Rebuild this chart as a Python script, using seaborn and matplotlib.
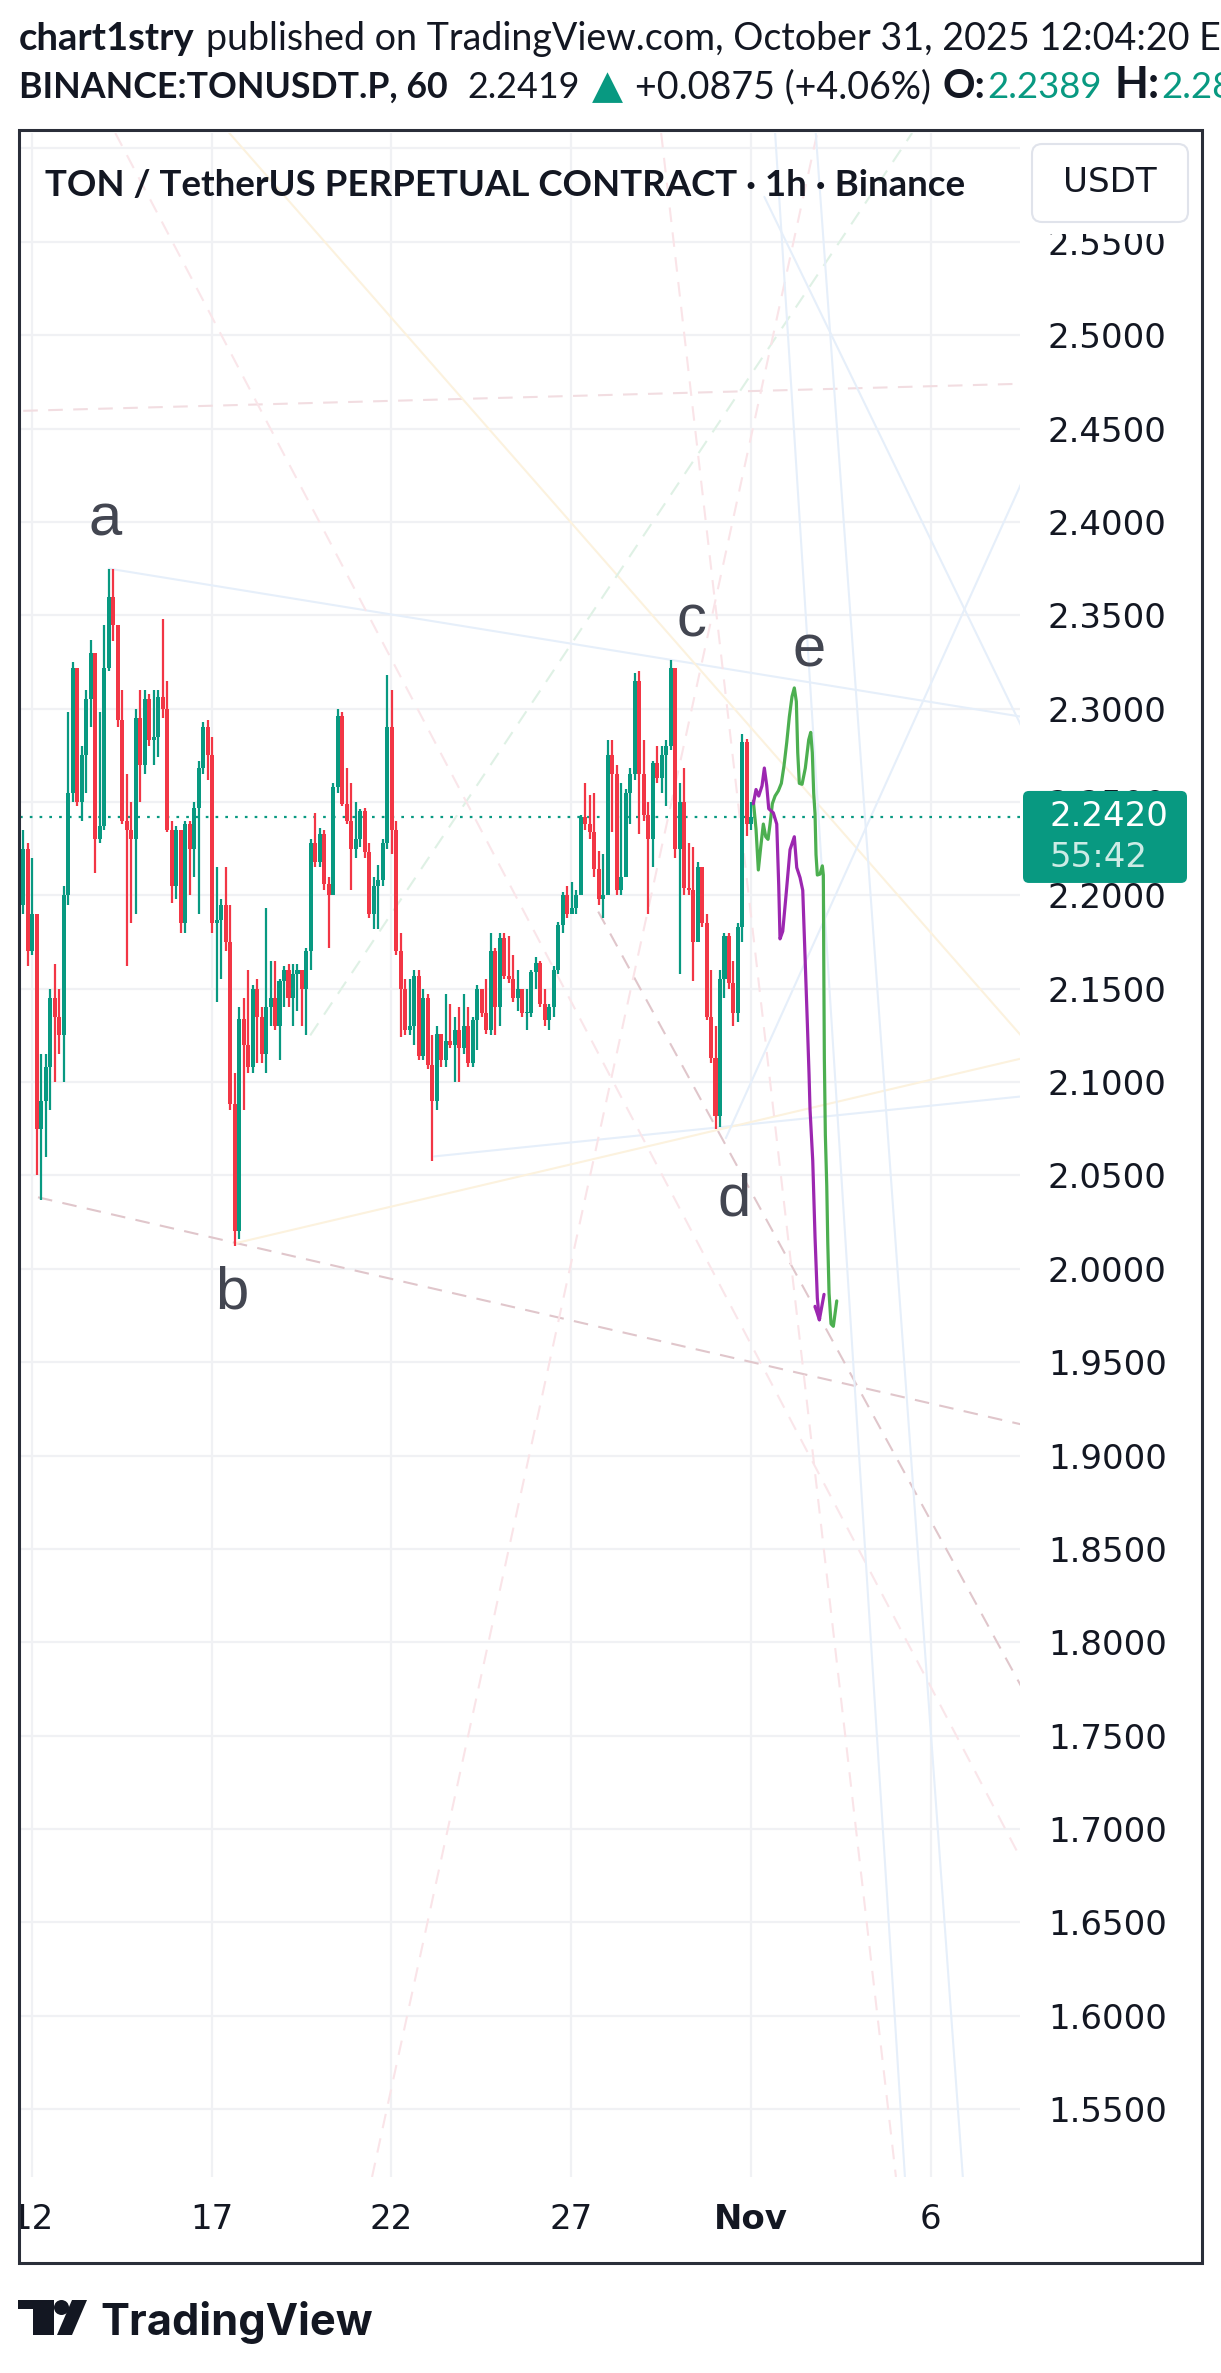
import numpy as np
import pandas as pd
import matplotlib
matplotlib.use("Agg")
import matplotlib.pyplot as plt
from matplotlib.patches import Rectangle, FancyBboxPatch, Polygon, Ellipse
from matplotlib.transforms import IdentityTransform
import seaborn as sns

W, H = 1221, 2373
UP, DOWN = "#089981", "#f23645"
INK = "#131722"

# ---------------- data ----------------
# 3h candles (open = previous close)
first_open = 2.195
closes = [
    2.225, 2.17, 2.19, 2.075, 2.09, 2.108, 2.145, 2.135, 2.125, 2.20,
    2.255, 2.322, 2.25, 2.275, 2.305, 2.33, 2.23, 2.237, 2.322, 2.36,
    2.345, 2.294, 2.24, 2.235, 2.23, 2.295, 2.27, 2.305, 2.283, 2.285,
    2.306, 2.30, 2.235, 2.205, 2.235, 2.185, 2.238, 2.225, 2.247, 2.268,
    2.29, 2.275, 2.185, 2.187, 2.195, 2.175, 2.088, 2.02, 2.134, 2.12,
    2.108, 2.15, 2.135, 2.115, 2.14, 2.145, 2.13, 2.154, 2.16, 2.145,
    2.158, 2.16, 2.15, 2.17, 2.228, 2.218, 2.233, 2.206, 2.20, 2.258,
    2.296, 2.249, 2.24, 2.225, 2.23, 2.245, 2.223, 2.19, 2.205, 2.208,
    2.228, 2.29, 2.235, 2.17, 2.15, 2.128, 2.13, 2.157, 2.114, 2.145,
    2.109, 2.09, 2.126, 2.112, 2.122, 2.12, 2.128, 2.118, 2.13, 2.11,
    2.133, 2.15, 2.137, 2.128, 2.17, 2.14, 2.177, 2.157, 2.155, 2.145,
    2.15, 2.137, 2.137, 2.159, 2.164, 2.142, 2.133, 2.14, 2.16, 2.184,
    2.20, 2.19, 2.193, 2.20, 2.242, 2.238, 2.234, 2.214, 2.198, 2.20,
    2.275, 2.265, 2.203, 2.21, 2.255, 2.265, 2.315, 2.265, 2.243, 2.23,
    2.271, 2.263, 2.275, 2.28, 2.322, 2.225, 2.25, 2.204, 2.203, 2.175,
    2.215, 2.185, 2.135, 2.113, 2.082, 2.155, 2.178, 2.153, 2.137, 2.183,
    2.282, 2.238, 2.2419,
]
highs = [
    2.235, 2.228, 2.22, 2.19, 2.115, 2.115, 2.15, 2.163, 2.15, 2.205,
    2.298, 2.325, 2.32, 2.28, 2.31, 2.337, 2.33, 2.298, 2.345, 2.375,
    2.375, 2.345, 2.31, 2.265, 2.25, 2.30, 2.31, 2.31, 2.308, 2.31,
    2.31, 2.348, 2.315, 2.24, 2.237, 2.225, 2.24, 2.24, 2.25, 2.272,
    2.293, 2.294, 2.285, 2.215, 2.198, 2.215, 2.195, 2.105, 2.14, 2.145,
    2.16, 2.152, 2.155, 2.14, 2.193, 2.165, 2.165, 2.155, 2.162, 2.163,
    2.163, 2.163, 2.16, 2.172, 2.23, 2.244, 2.236, 2.235, 2.21, 2.26,
    2.30, 2.298, 2.268, 2.26, 2.25, 2.246, 2.247, 2.228, 2.21, 2.216,
    2.23, 2.318, 2.31, 2.24, 2.18, 2.155, 2.155, 2.16, 2.16, 2.15,
    2.147, 2.125, 2.13, 2.126, 2.147, 2.142, 2.135, 2.14, 2.147, 2.14,
    2.135, 2.152, 2.15, 2.155, 2.18, 2.172, 2.18, 2.18, 2.178, 2.168,
    2.16, 2.15, 2.15, 2.16, 2.167, 2.165, 2.15, 2.142, 2.162, 2.186,
    2.202, 2.205, 2.207, 2.203, 2.243, 2.26, 2.254, 2.255, 2.224, 2.222,
    2.283, 2.283, 2.27, 2.26, 2.257, 2.268, 2.319, 2.32, 2.283, 2.25,
    2.272, 2.28, 2.28, 2.283, 2.326, 2.322, 2.26, 2.268, 2.228, 2.226,
    2.218, 2.215, 2.19, 2.16, 2.13, 2.16, 2.18, 2.18, 2.165, 2.185,
    2.2865, 2.284, 2.25,
]
lows = [
    2.19, 2.162, 2.168, 2.05, 2.037, 2.06, 2.085, 2.10, 2.115, 2.10,
    2.195, 2.25, 2.248, 2.24, 2.255, 2.29, 2.212, 2.228, 2.235, 2.32,
    2.336, 2.29, 2.238, 2.162, 2.185, 2.19, 2.25, 2.265, 2.28, 2.27,
    2.274, 2.295, 2.234, 2.196, 2.198, 2.18, 2.18, 2.20, 2.21, 2.19,
    2.265, 2.262, 2.18, 2.143, 2.155, 2.17, 2.085, 2.012, 2.016, 2.085,
    2.105, 2.105, 2.11, 2.11, 2.105, 2.13, 2.128, 2.112, 2.14, 2.14,
    2.13, 2.138, 2.13, 2.125, 2.16, 2.215, 2.215, 2.203, 2.172, 2.20,
    2.255, 2.248, 2.238, 2.203, 2.22, 2.226, 2.22, 2.188, 2.182, 2.182,
    2.205, 2.225, 2.222, 2.168, 2.124, 2.125, 2.125, 2.12, 2.112, 2.112,
    2.107, 2.058, 2.085, 2.108, 2.108, 2.118, 2.10, 2.10, 2.115, 2.108,
    2.108, 2.117, 2.135, 2.126, 2.125, 2.125, 2.13, 2.155, 2.153, 2.143,
    2.138, 2.135, 2.128, 2.135, 2.15, 2.14, 2.13, 2.128, 2.135, 2.158,
    2.18, 2.188, 2.19, 2.19, 2.208, 2.235, 2.23, 2.21, 2.195, 2.188,
    2.20, 2.234, 2.20, 2.20, 2.218, 2.238, 2.262, 2.233, 2.24, 2.19,
    2.215, 2.26, 2.255, 2.248, 2.278, 2.22, 2.158, 2.20, 2.20, 2.154,
    2.175, 2.183, 2.133, 2.11, 2.075, 2.076, 2.145, 2.15, 2.13, 2.132,
    2.175, 2.232, 2.235,
]
t_first, t_step = 11.762, 0.125  # day-of-October of first candle centre, 3h in days

date_ticks = [12, 17, 22, 27, 32, 37]
date_labels = ["12", "17", "22", "27", "Nov", "6"]
price_ticks = [1.55, 1.60, 1.65, 1.70, 1.75, 1.80, 1.85, 1.90, 1.95, 2.00, 2.05,
               2.10, 2.15, 2.20, 2.25, 2.30, 2.35, 2.40, 2.45, 2.50, 2.55, 2.60]
last_price = 2.2420
countdown = "55:42"

# hand-drawn projections
purple_x = [32.064, 32.139, 32.214, 32.306, 32.370, 32.437, 32.492, 32.620, 32.715,
            32.770, 32.806, 32.882, 32.973, 33.085, 33.204, 33.271, 33.363, 33.438,
            33.502, 33.566, 33.613, 33.641, 33.716, 33.780, 33.844, 33.900]
purple_y = [2.2491, 2.2567, 2.2532, 2.2587, 2.2682, 2.2587, 2.2464, 2.2442, 2.2382,
            2.2054, 2.1767, 2.1808, 2.2000, 2.2245, 2.2314, 2.2149, 2.2095, 2.2027,
            2.1672, 2.1316, 2.1043, 2.0852, 2.0579, 2.0169, 1.9842, 1.9727]
purple_head_x = [33.780, 33.900, 34.030]
purple_head_y = [1.9799, 1.9727, 1.9863]
green_x = [32.064, 32.139, 32.203, 32.270, 32.342, 32.409, 32.473, 32.529, 32.593,
           32.668, 32.760, 32.843, 32.918, 32.993, 33.065, 33.140, 33.204, 33.260,
           33.299, 33.343, 33.419, 33.510, 33.604, 33.660, 33.704, 33.743, 33.780,
           33.807, 33.844, 33.919, 33.983, 34.011, 34.022, 34.039, 34.067, 34.106,
           34.134, 34.170, 34.225, 34.289, 34.384]
green_y = [2.2505, 2.2354, 2.2136, 2.2259, 2.2382, 2.2314, 2.2300, 2.2382, 2.2491,
           2.2532, 2.2560, 2.2600, 2.2696, 2.2819, 2.2956, 2.3065, 2.3111, 2.3038,
           2.2764, 2.2600, 2.2595, 2.2682, 2.2833, 2.2873, 2.2764, 2.2546, 2.2436,
           2.2218, 2.2109, 2.2114, 2.2158, 2.2109, 2.1672, 2.1125, 2.0716, 2.0443,
           2.0142, 1.9869, 1.9705, 1.9692, 1.9828]

wave_labels = ["a", "b", "c", "d", "e"]
wave_x = [14.04, 17.55, 30.33, 31.53, 33.61]
wave_y = [2.401, 1.987, 2.347, 2.037, 2.331]

# faint drawing-tool lines: x0, y0, x1, y1, colour, dashed
bg_lines = [
    (11.76, 2.4595, 39.51, 2.4740, "#f2dde1", True),
    (14.14, 2.3750, 39.48, 2.2958, "#e6effa", False),
    (23.19, 2.0602, 39.51, 2.0923, "#e6effa", False),
    (12.17, 2.0383, 39.51, 1.9167, "#e0c6cb", True),
    (27.75, 2.1913, 39.51, 1.7765, "#e0c6cb", True),
    (17.64, 2.0136, 39.51, 2.1126, "#fcf2de", False),
    (17.49, 2.6083, 39.51, 2.1249, "#fcf2de", False),
    (19.74, 2.1250, 36.48, 2.6083, "#dff1e5", True),
    (21.46, 1.5136, 33.84, 2.6083, "#fae4e8", True),
    (14.32, 2.6083, 39.51, 1.6839, "#fae6ea", True),
    (29.50, 2.6083, 36.03, 1.5136, "#fae4e8", True),
    (32.67, 2.6083, 36.28, 1.5136, "#e6effa", False),
    (33.80, 2.6083, 37.89, 1.5136, "#e6effa", False),
    (39.51, 2.4204, 31.30, 2.0700, "#e6effa", False),
    (32.37, 2.5741, 39.51, 2.2909, "#e6effa", False),
]

# ---------------- figure ----------------
sns.set_theme(style="white")
plt.rcParams["font.family"] = ["DejaVu Sans"]

fig = plt.figure(figsize=(W / 100, H / 100), dpi=100)
fig.patch.set_facecolor("white")
ax = fig.add_axes([20 / W, 1 - 2177 / H, 1000 / W, 2044 / H])
ax.set_xlim(11.67, 39.48)
ax.set_ylim(1.5136, 2.6083)

for x0, y0, x1, y1, c, dashed in bg_lines:
    ax.plot([x0, x1], [y0, y1], color=c, lw=1.5,
            ls=(0, (7, 5)) if dashed else "-", zorder=1)

# candles
t = t_first + t_step * np.arange(len(closes))
df = pd.DataFrame({"t": t, "close": closes, "high": highs, "low": lows})
df["open"] = [first_open] + closes[:-1]
df["high"] = df[["high", "open", "close"]].max(axis=1)
df["low"] = df[["low", "open", "close"]].min(axis=1)
col = np.where(df["close"] >= df["open"], UP, DOWN)
ax.vlines(df["t"], df["low"], df["high"], colors=col, lw=1.6, zorder=3)
ax.bar(df["t"], (df["close"] - df["open"]).abs().clip(lower=0.0008),
       bottom=df[["open", "close"]].min(axis=1), width=0.112, color=col,
       linewidth=0, zorder=3)

ax.axhline(last_price, color=UP, lw=1.6, ls=(0, (1.2, 3.2)), zorder=2)

# projections
kw = dict(sort=False, estimator=None, ax=ax, lw=2.3, zorder=5,
          solid_joinstyle="round", solid_capstyle="round")
sns.lineplot(x=green_x, y=green_y, color="#4caf50", **kw)
sns.lineplot(x=purple_x, y=purple_y, color="#9c27b0", **kw)
sns.lineplot(x=purple_head_x, y=purple_head_y, color="#9c27b0", **kw)

for s, x, y in zip(wave_labels, wave_x, wave_y):
    ax.text(x, y, s, ha="center", va="center", fontsize=43, color="#434651",
            family=["Liberation Sans", "DejaVu Sans"], zorder=6)

# axes styling
for sp in ax.spines.values():
    sp.set_visible(False)
ax.set_xticks(date_ticks)
ax.set_xticklabels(date_labels)
ax.set_yticks(price_ticks)
ax.set_yticklabels([f"{v:.4f}" for v in price_ticks])
ax.yaxis.tick_right()
ax.tick_params(axis="y", length=0, pad=20, labelsize=24.5, labelcolor=INK)
ax.tick_params(axis="x", length=0, pad=19, labelsize=24.5, labelcolor=INK)
ax.get_xticklabels()[4].set_fontweight("bold")
ax.grid(True, color="#f0f1f4", lw=1.6)
ax.set_axisbelow(True)
ax.set_xlabel("")
ax.set_ylabel("")

# ---------------- overlays (pixel coordinates, top-based) ----------------
IDT = IdentityTransform()


def rect(x0, y0, x1, y1, **k):
    p = Rectangle((x0, H - y1), x1 - x0, y1 - y0, transform=IDT, **k)
    fig.add_artist(p)
    return p


rect(0, 125, 18.5, 2270, fc="white", ec="none", zorder=10)
rect(1022, 134, 1200, 234, fc="white", ec="none", zorder=10)
fig.add_artist(FancyBboxPatch((1032, H - 222), 156, 78,
                              boxstyle="round,pad=0,rounding_size=10",
                              fc="white", ec="#e0e3eb", lw=1.5,
                              transform=IDT, zorder=11))
fig.text(1110, H - 183, "USDT", transform=IDT, ha="center", va="center",
         fontsize=24.5, color=INK, zorder=12)

# last price label
yd = ax.transData.transform((ax.get_xlim()[0], last_price))[1]
fig.add_artist(FancyBboxPatch((1023, yd - 66), 164, 92,
                              boxstyle="round,pad=0,rounding_size=6",
                              fc=UP, ec="none", transform=IDT, zorder=11))
fig.text(1049, yd, f"{last_price:.4f}", transform=IDT, va="center", ha="left",
         fontsize=24.5, color="white", zorder=12)
fig.text(1049, yd - 41, countdown, transform=IDT, va="center", ha="left",
         fontsize=24.5, color="#cdebe5", zorder=12)

# frame
rect(19, 130, 1202, 2263, fill=False, ec="#2a2e39", lw=2.2, zorder=13)

renderer = fig.canvas.get_renderer()
HEAD = ["Lato", "DejaVu Sans"]


def fit_text(x0, x1, ybase, s, size=24, **k):
    k.setdefault("family", HEAD)
    k.setdefault("color", INK)
    tx = fig.text(x0, H - ybase, s, transform=IDT, ha="left", va="baseline",
                  fontsize=size, zorder=14, **k)
    w = tx.get_window_extent(renderer).width
    tx.set_fontsize(size * (x1 - x0) / w)
    return tx


fit_text(19, 195, 50, "chart1stry", weight="bold")
t1 = fit_text(206, 1190, 50, "published on TradingView.com, October 31, 2025 12:04:20")
fig.text(1199, H - 50, "EDT", transform=IDT, ha="left", va="baseline",
         fontsize=t1.get_fontsize(), family=HEAD, color=INK)

fit_text(19, 448, 98, "BINANCE:TONUSDT.P, 60", weight="bold")
fit_text(467, 580, 98, "2.2419")
fit_text(592, 623, 98, "\u25b2", color=UP, family=["DejaVu Sans"])
fit_text(635, 931, 98, "+0.0875 (+4.06%)")
fit_text(942, 985, 98, "O:", weight="bold")
t2 = fit_text(987, 1102, 98, "2.2389", color=UP)
fit_text(1115, 1160, 98, "H:", weight="bold")
fig.text(1161, H - 98, "2.2865", transform=IDT, ha="left", va="baseline",
         fontsize=t2.get_fontsize(), family=HEAD, color=UP)

fit_text(45, 966, 196, "TON / TetherUS PERPETUAL CONTRACT \u00b7 1h \u00b7 Binance",
         weight="bold")

# TradingView logo
fig.add_artist(Polygon([(18, H - 2300), (54, H - 2300), (54, H - 2335),
                        (33, H - 2335), (33, H - 2309), (18, H - 2309)],
                       closed=True, fc=INK, ec="none", transform=IDT, zorder=14))
fig.add_artist(Ellipse((61.5, H - 2307.5), 15, 15, fc=INK, ec="none",
                       transform=IDT, zorder=14))
fig.add_artist(Polygon([(72, H - 2300), (87, H - 2300), (72, H - 2335),
                        (57, H - 2335)], closed=True, fc=INK, ec="none",
                       transform=IDT, zorder=14))
fit_text(100, 373, 2335, "TradingView", weight="bold", family=["Inter", "Lato", "DejaVu Sans"])

fig.savefig("out.png", dpi=100, facecolor="white")
